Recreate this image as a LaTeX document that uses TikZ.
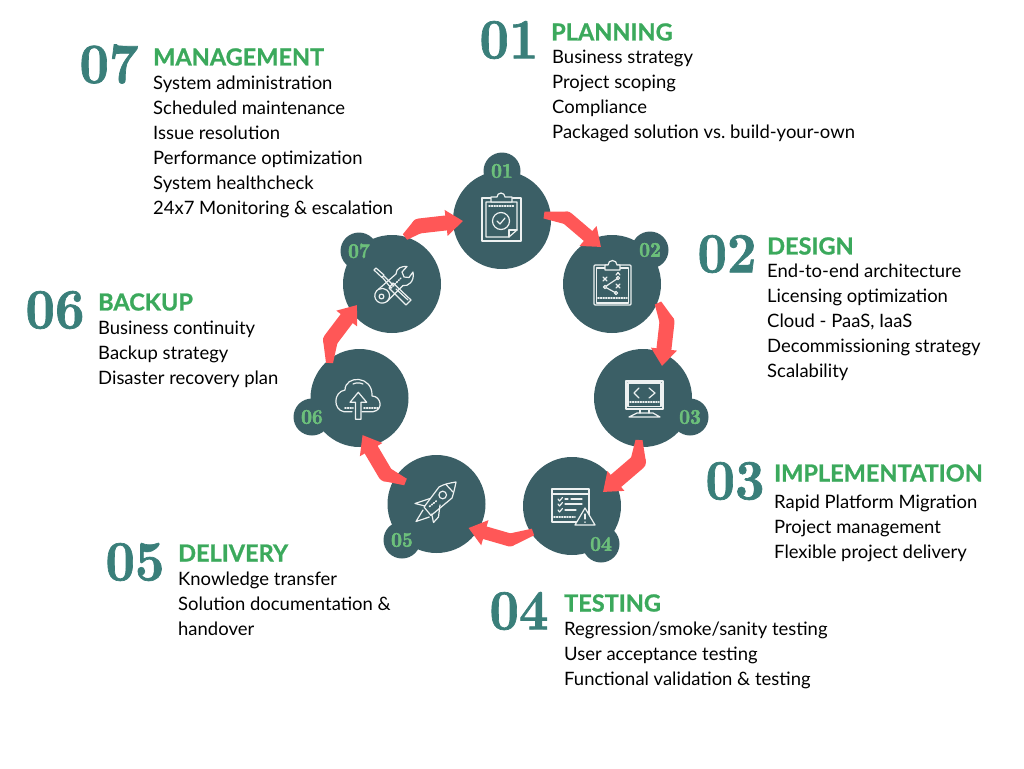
\documentclass[tikz,border=0pt]{standalone}
\usepackage{fontspec}
\setmainfont{Lato}
\newfontfamily\numfont[Extension=.otf,FakeStretch=.9,FakeBold=1.2]{lmroman10-bold}
\newfontfamily\headfont[UprightFont=* Bold,FakeBold=1]{Lato}
\usetikzlibrary{arrows.meta,positioning,calc}
\definecolor{circleteal}{HTML}{3B5F66}
\definecolor{bignum}{HTML}{3A7F7A}
\definecolor{headgreen}{HTML}{3BA95C}
\definecolor{smallgreen}{HTML}{6CBF7B}
\definecolor{flowred}{HTML}{FF5757}
\definecolor{iconline}{HTML}{EDF1F1}
\newcommand{\flowarrow}[4][13pt]{%
\fill[flowred] ($(#2)!3.5pt!90:(#3)$) -- ($(#3)!.5*#1!-90:(#2)$) -- ($(#3)!.5*#1!90:(#2)$) -- ($(#2)!3.5pt!-90:(#3)$) -- cycle;
\draw[flowline,line width=#1] (#3) -- (#4);}
\begin{document}
\frenchspacing
\begin{tikzpicture}[x=1pt,y=-1pt,
main node/.style={circle,fill=circleteal,minimum size=98pt,inner sep=0pt},
tag node/.style={circle,fill=circleteal,minimum size=37pt,inner sep=0pt,text=smallgreen,font=\numfont\fontsize{21}{21}\selectfont},
big num/.style={inner sep=0pt,text=bignum,font=\numfont\fontsize{57}{57}\selectfont},
head text/.style={anchor=west,inner sep=0pt,text=headgreen,font=\headfont\fontsize{23.5}{24}\selectfont},
body text/.style={anchor=north west,inner sep=0pt,align=left,text=black,font=\fontsize{18.45}{25}\selectfont},
flowline/.style={draw=flowred,line cap=round,-{Triangle[width=25pt,length=17pt]}},
icon/.style={draw=iconline,line width=1.2pt,line join=round,line cap=round},
dotrow/.style={draw=iconline,line width=1.6pt,dash pattern=on 1pt off 1.6pt}]
\useasboundingbox (0,0) rectangle (1024,768);
\begin{scope}
\node[tag node] (t1) at (502,171) {01};
\node[tag node] (t2) at (650,250) {02};
\node[tag node] (t3) at (690,417) {03};
\node[tag node] (t4) at (601,544) {04};
\node[tag node] (t5) at (402,540) {05};
\node[tag node] (t6) at (312,417) {06};
\node[tag node] (t7) at (359,251) {07};
\node[main node] (c1) at (502,220) {};
\node[main node] (c2) at (612,284) {};
\node[main node] (c3) at (643,398) {};
\node[main node] (c4) at (572,506) {};
\node[main node] (c5) at (436.5,504) {};
\node[main node] (c6) at (359.5,398) {};
\node[main node] (c7) at (392,284) {};
\end{scope}
% tag labels sit over the big circles
\node[tag node,fill=none] at (t1) {01};
\node[tag node,fill=none] at (t2) {02};
\node[tag node,fill=none] at (t3) {03};
\node[tag node,fill=none] at (t4) {04};
\node[tag node,fill=none] at (t5) {05};
\node[tag node,fill=none] at (t6) {06};
\node[tag node,fill=none] at (t7) {07};
\begin{scope}
\flowarrow{$(c1)+(42,-5)$}{$(c1)+(65,-2)$}{$(c2)+(-11,-37)$}
\flowarrow[15pt]{$(c2)+(46,19)$}{$(c2)+(55,38)$}{$(c3)+(19,-32)$}
\flowarrow[16pt]{$(c3)+(-4,42)$}{$(c3)+(-5,64)$}{$(c4)+(31,-14)$}
\flowarrow{$(c4)+(-39,26)$}{$(c4)+(-62,34)$}{$(c5)+(32,24)$}
\flowarrow[15pt]{$(c5)+(-31,-22)$}{$(c5)+(-51,-30)$}{$(c6)+(3,37)$}
\flowarrow[15pt]{$(c6)+(-30,-35)$}{$(c6)+(-29,-58)$}{$(c7)+(-35,21)$}
\flowarrow[15pt]{$(c7)+(13,-47)$}{$(c7)+(27,-58)$}{$(c1)+(-39,1)$}
\end{scope}
\begin{scope}[every path/.style={icon}]
%planning icon
\draw (482,198) rectangle (521,241);
\draw[fill=circleteal] (486,202) -- (517,202) -- (517,230) -- (509,237) -- (486,237) -- cycle;
\draw (517,230) -- (509,230) -- (509,237);
\draw[fill=circleteal] (491,202) -- (491,197) -- (497,197) arc (180:360:4) -- (512,197) -- (512,202) -- cycle;
\draw[dotrow] (489,206) -- (515,206);
\draw (501,221) circle (8.5);
\draw (497,221) -- (500,224) -- (505,218);
%design icon
\draw[rounded corners=1pt] (594,265) rectangle (631,305);
\draw (596.5,268) rectangle (628.5,303);
\draw[fill=circleteal] (605,270) -- (605,265) -- (608,265) arc (180:360:4.5) -- (620,265) -- (620,270) -- cycle;
\draw[dotrow] (598,298) -- (627,298);
\draw (603,277) -- (607,281) (607,277) -- (603,281);
\draw (616,284) -- (620,288) (620,284) -- (616,288);
\draw (616,275) -- (618,272.5) -- (620,275);
\draw (605,287) circle (1.6) (618,278) circle (1.6) (616,293) circle (1.6);
\draw (606.3,286) -- (616.7,279) (606.4,287.8) -- (614.6,292.2);
%implementation icon
\draw (626,381) rectangle (663,409);
\draw (628,383) rectangle (661,406.5);
\draw (639,388) -- (634,393) -- (639,398) (649,388) -- (655,393) -- (649,398);
\draw[dotrow] (630,402) -- (659,402);
\draw (640,409) -- (640,413) (649,409) -- (649,413);
\draw (637,413) -- (653,413) -- (660,417) -- (629,417) -- cycle;
%testing icon
\draw (552,489) rectangle (589,522);
\draw (552,494) -- (589,494);
\draw (558,499) -- (559.5,501) -- (562.5,497.5);
\draw (558,504) -- (559.5,506) -- (562.5,502.5);
\draw (558,510) -- (559.5,512) -- (562.5,508.5);
\draw (565,499) -- (568,499) (571,499) -- (582,499);
\draw (565,504) -- (582,504);
\draw (565,510) -- (576,510);
\draw[dotrow] (554,517) -- (575,517);
\draw[fill=circleteal] (585,508) -- (595,525) -- (575,525) -- cycle;
\draw (585,514) -- (585,519);
\draw (585,522) -- (585,522.2);
%delivery icon
\draw (456,482) .. controls (450,483) and (444,484) .. (439,487) -- (424,507) -- (431,515.5) -- (452,498) .. controls (454,492) and (455,487) .. (456,482) -- cycle;
\draw (446,484.5) -- (453,492);
\draw (442.7,495) circle (3.8);
\draw[dotrow] (429.5,506.5) -- (437,500.5);
\draw (430,498.5) -- (415,503.5) -- (425,506);
\draw (440,505) -- (438.5,517) -- (433.5,522.5) -- (431.7,514);
\draw (423,510) -- (416,521.5) -- (429.3,517);
%backup icon
\draw (352,411.7) -- (344,411.7) .. controls (333,410) and (333,392) .. (345,390) .. controls (345,375) and (373,375) .. (372,396) .. controls (381,396) and (384,410) .. (373,411.7) -- (362,411.7);
\draw (353,384) .. controls (356,382.5) and (360,382.5) .. (363,384);
\draw (350,402.3) -- (358.3,392.3) -- (366.7,402.3) -- (361,402.3) -- (361,419.3) -- (355.5,419.3) -- (355.5,402.3) -- cycle;
\draw[dotrow] (345,408) -- (353,408) (364,408) -- (378,408);
%management icon
\draw (374,270) -- (376,268) -- (384,275) -- (382,277.5) -- cycle;
\draw (384,276) -- (394,286) (382.5,277.5) -- (391,288);
\draw (393,283) -- (411,300) -- (406,305) -- (389,288) -- cycle;
\draw (396,289) -- (408,300);
\draw (381.5,296.5) circle (2.4);
\draw (376.5,291) arc (220:-120:7.4);
\draw (376.5,291) -- (396,274) (387,301.5) -- (403,285.5);
\draw (396,274) .. controls (396,268) and (402,266) .. (407,266.5) -- (402,272) -- (404,277) -- (409,277.5) -- (413,272) .. controls (415,281) and (408,287) .. (403,285.5);
\draw[dotrow] (391,288) -- (401,278);
\end{scope}
\begin{scope}
\node[big num] (n1) at (509,40) {01};
\node[head text] (h1) at (551,32) {PLANNING};
\node[body text] (b1) at (552,49.5) {Business strategy\\Project scoping\\Compliance\\Packaged solution vs. build-your-own};
\node[big num] (n2) at (727,254) {02};
\node[head text] (h2) at (767,246) {DESIGN};
\node[body text] (b2) at (767,263.5) {End-to-end architecture\\Licensing optimization\\Cloud - PaaS, IaaS\\Decommissioning strategy\\Scalability};
\node[big num] (n3) at (735,481) {03};
\node[head text] (h3) at (774,473) {IMPLEMENTATION};
\node[body text] (b3) at (774,494.5) {Rapid Platform Migration\\Project management\\Flexible project delivery};
\node[big num] (n4) at (519,611) {04};
\node[head text] (h4) at (564,603) {TESTING};
\node[body text] (b4) at (564,621.5) {Regression/smoke/sanity testing\\User acceptance testing\\Functional validation \& testing};
\node[big num] (n5) at (135,562) {05};
\node[head text] (h5) at (178,553) {DELIVERY};
\node[body text] (b5) at (178,571.5) {Knowledge transfer\\Solution documentation \&\\handover};
\node[big num] (n6) at (55,310) {06};
\node[head text] (h6) at (98,302) {BACKUP};
\node[body text] (b6) at (98,320.5) {Business continuity\\Backup strategy\\Disaster recovery plan};
\node[big num] (n7) at (109,64) {07};
\node[head text] (h7) at (153,57) {MANAGEMENT};
\node[body text] (b7) at (153,75.5) {System administration\\Scheduled maintenance\\Issue resolution\\Performance optimization\\System healthcheck\\24x7 Monitoring \& escalation};
\end{scope}
\end{tikzpicture}
\end{document}
